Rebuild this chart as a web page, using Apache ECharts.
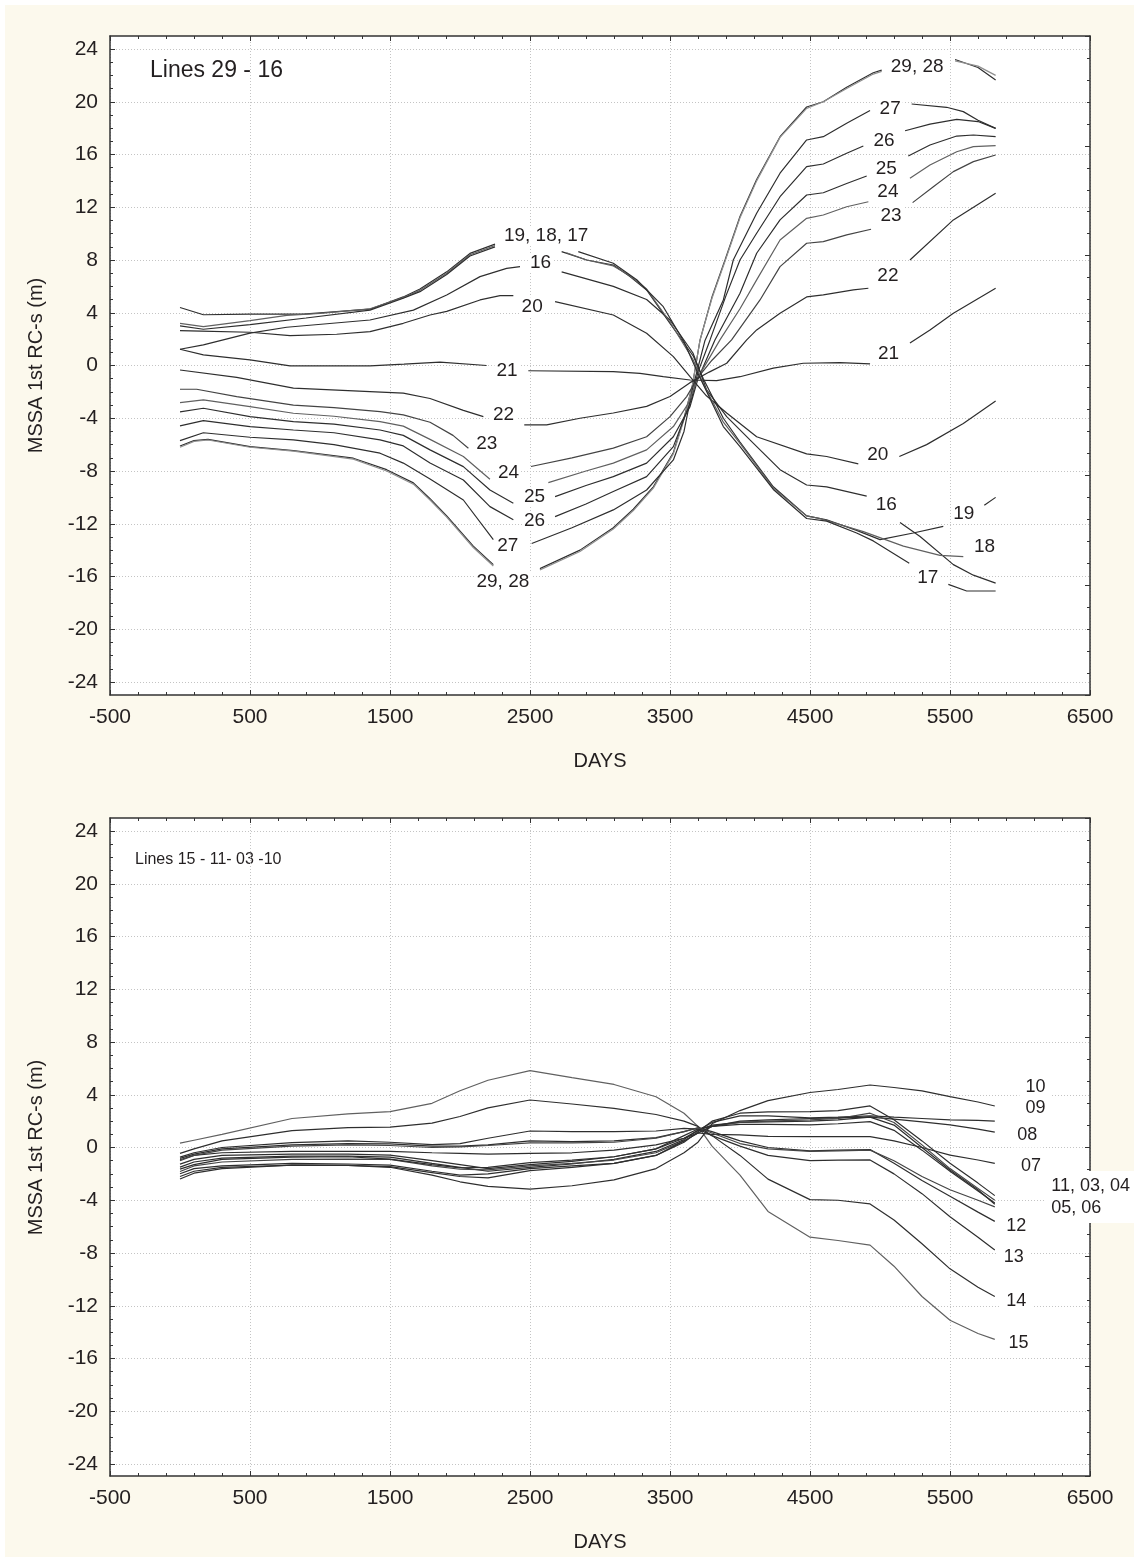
<!DOCTYPE html>
<html><head><meta charset="utf-8">
<script src="https://cdn.jsdelivr.net/npm/echarts@6/dist/echarts.min.js"></script>
<style>
html,body{margin:0;padding:0;background:#fff;}
#bg{position:absolute;left:5px;top:5px;width:1129px;height:1552px;background:#fcf9ed;}
#chart{position:absolute;left:0;top:0;width:1139px;height:1562px;}
</style></head><body>
<div id="bg"></div><div id="chart"></div>
<script>
// ---------------- DATA ----------------
// Shared axis settings
const X_MIN = -500, X_MAX = 6500, X_STEP = 1000;
const Y_MIN = -24, Y_MAX = 24, Y_STEP = 4;

// Panel 1 (Lines 29 - 16): [day, value] pairs, null = break for in-line label
const L29 = [[0,-6.1],[100,-5.7],[200,-5.6],[500,-6.15],[810,-6.45],[1238,-7.03],[1476,-7.9],[1667,-8.9],[1786,-10.1],[1905,-11.4],[2095,-13.7],[2238,-15.1],null,[2571,-15.4],[2857,-14.0],[3095,-12.3],[3238,-10.9],[3381,-9.2],[3524,-6.6],[3600,-4.0],[3660,-1.5],[3714,1.9],[3800,5.2],[3893,8.0],[4000,11.3],[4119,14.1],[4286,17.35],[4476,19.6],[4595,20.0],[4762,21.1],[4952,22.2],[5012,22.4],null,[5536,23.2],[5700,22.6],[5826,21.65]];
const L28 = [[0,-6.2],[100,-5.75],[200,-5.65],[500,-6.2],[810,-6.5],[1238,-7.1],[1476,-8.0],[1667,-9.0],[1786,-10.2],[1905,-11.5],[2095,-13.8],[2238,-15.2],null,[2571,-15.5],[2857,-14.1],[3095,-12.4],[3238,-11.0],[3381,-9.3],[3524,-6.7],[3600,-4.1],[3660,-1.5],[3714,1.9],[3800,5.1],[3893,7.9],[4000,11.2],[4119,14.0],[4286,17.3],[4476,19.5],[4595,20.0],[4762,21.0],[4952,22.1],[5012,22.3],null,[5536,23.1],[5700,22.7],[5826,22.0]];
const L27 = [[0,-5.7],[167,-5.1],[500,-5.44],[810,-5.64],[1100,-6.0],[1429,-6.65],[1595,-7.4],[1786,-8.6],[2024,-10.2],[2238,-13.2],null,[2512,-13.5],[2800,-12.3],[3095,-10.95],[3333,-9.44],[3524,-7.16],[3600,-5.0],[3660,-1.8],[3750,1.9],[3881,4.97],[3952,8.0],[4119,11.54],[4286,14.58],[4476,17.1],[4595,17.35],[4762,18.37],[4929,19.33],null,[5226,19.83],[5476,19.58],[5595,19.25],[5700,18.6],[5826,17.98]];
const L26 = [[0,-4.58],[167,-4.18],[500,-4.63],[810,-4.89],[1100,-5.1],[1429,-5.64],[1595,-6.1],[1786,-7.4],[2024,-8.68],[2214,-10.7],[2381,-11.7],null,[2679,-11.46],[2900,-10.5],[3095,-9.56],[3333,-8.43],[3524,-6.15],[3655,-2.5],[3700,-0.5],[3786,1.94],[3900,5.3],[4000,8.0],[4119,10.03],[4286,12.8],[4476,15.08],[4595,15.28],[4762,16.09],[4881,16.65],null,[5179,17.8],[5357,18.3],[5548,18.67],[5700,18.5],[5826,17.98]];
const L25 = [[0,-3.52],[167,-3.24],[500,-3.88],[810,-4.26],[1100,-4.45],[1429,-4.89],[1595,-5.3],[1786,-6.4],[2024,-7.67],[2214,-9.44],[2381,-10.44],null,[2679,-9.94],[2900,-9.1],[3095,-8.43],[3333,-7.4],[3524,-5.4],[3643,-3.12],[3700,-1.0],[3821,1.94],[4000,5.48],[4119,8.51],[4286,11.04],[4476,12.93],[4595,13.1],[4762,13.8],[4905,14.37],null,[5202,15.89],[5357,16.72],[5548,17.4],[5667,17.48],[5826,17.35]];
const L24 = [[0,-2.82],[167,-2.61],[500,-3.12],[810,-3.62],[1100,-3.85],[1429,-4.26],[1595,-4.6],[1786,-5.6],[2024,-6.9],[2214,-8.62],null,[2631,-8.88],[2900,-8.0],[3095,-7.4],[3333,-6.4],[3524,-4.63],[3631,-2.87],[3700,-0.9],[3857,1.94],[4000,4.3],[4119,6.49],[4286,9.52],[4476,11.16],[4595,11.41],[4762,12.04],[4917,12.42],null,[5214,14.2],[5357,15.2],[5548,16.21],[5667,16.6],[5826,16.67]];
const L23 = [[0,-1.8],[119,-1.8],[405,-2.36],[810,-3.0],[1100,-3.2],[1429,-3.5],[1595,-3.75],[1786,-4.3],[1950,-5.3],[2060,-6.27],null,[2507,-7.66],[2800,-7.0],[3095,-6.27],[3333,-5.4],[3500,-3.88],[3619,-2.36],[3700,-0.9],[3800,0.4],[3940,1.94],[4143,4.97],[4286,7.5],[4476,9.27],[4595,9.39],[4762,9.9],[4936,10.33],null,[5233,12.35],[5381,13.56],[5524,14.7],[5667,15.46],[5826,15.96]];
const L22 = [[0,-0.34],[405,-0.9],[810,-1.72],[1357,-1.98],[1595,-2.1],[1786,-2.5],[2024,-3.4],[2167,-3.88],null,[2459,-4.5],[2619,-4.5],[2857,-4.0],[3095,-3.6],[3333,-3.1],[3500,-2.35],[3643,-1.3],[3780,-0.5],[3905,0.17],[4048,1.94],[4119,2.7],[4286,3.96],[4476,5.2],[4595,5.35],[4810,5.73],[4917,5.86],null,[5214,8.0],[5524,11.04],[5826,13.06]];
const L21 = [[0,1.23],[167,0.8],[500,0.43],[786,-0.03],[1357,-0.03],[1600,0.1],[1857,0.25],[2190,0.0],null,[2488,-0.4],[3095,-0.46],[3286,-0.6],[3452,-0.85],[3643,-1.1],[3833,-1.15],[4000,-0.85],[4238,-0.2],[4452,0.17],[4714,0.22],[4929,0.12],null,[5214,1.7],[5357,2.7],[5524,3.96],[5826,5.86]];
const L20 = [[0,2.64],[150,2.6],[500,2.52],[786,2.26],[1119,2.37],[1357,2.57],[1595,3.2],[1786,3.83],[1905,4.1],[2143,4.97],[2286,5.3],[2381,5.3],null,[2679,4.84],[3095,3.83],[3333,2.44],[3524,0.67],[3643,-0.85],[3760,-2.3],[3905,-3.6],[4119,-5.4],[4476,-6.7],[4619,-6.9],[4845,-7.46],null,[5138,-6.9],[5333,-6.0],[5595,-4.4],[5826,-2.7]];
const L16 = [[0,1.23],[167,1.56],[500,2.45],[762,2.9],[1357,3.45],[1667,4.2],[1905,5.35],[2143,6.74],[2333,7.37],[2429,7.5],null,[2726,7.1],[3095,6.0],[3333,5.0],[3500,3.45],[3664,0.95],[3762,-1.85],[3905,-3.88],[4071,-5.64],[4286,-7.9],[4476,-9.06],[4619,-9.2],[4905,-9.9],null,[5143,-11.9],[5286,-12.97],[5524,-15.1],[5667,-15.9],[5826,-16.5]];
const L19 = [[0,4.4],[167,3.85],[500,3.9],[881,3.9],[1357,4.27],[1595,5.2],[1714,5.8],[1905,7.1],[2071,8.5],[2250,9.2],null,[2726,8.63],[2905,8.0],[3095,7.62],[3214,6.74],[3333,5.73],[3500,3.2],[3667,0.7],[3738,-1.0],[3881,-4.0],[4000,-5.8],[4238,-9.2],[4476,-11.4],[4619,-11.7],[4833,-12.5],[5000,-13.2],[5238,-12.7],[5452,-12.2],null,[5745,-10.6],[5826,-10.0]];
const L18 = [[0,3.2],[167,2.95],[500,3.4],[762,3.8],[1000,3.95],[1357,4.3],[1595,5.15],[1714,5.7],[1905,7.0],[2071,8.4],[2250,9.1],null,[2760,8.55],[2905,8.0],[3095,7.55],[3214,6.8],[3333,5.8],[3500,3.3],[3667,0.4],[3738,-1.4],[3881,-4.3],[4000,-5.9],[4238,-9.3],[4476,-11.4],[4571,-11.6],[4881,-12.6],[5167,-13.7],[5429,-14.4],[5595,-14.5]];
const L17 = [[0,3.0],[167,2.75],[500,3.1],[900,3.6],[1357,4.2],[1595,5.1],[1714,5.6],[1905,6.9],[2071,8.3],[2250,9.0],null,[2845,8.63],[3095,7.75],[3262,6.5],[3452,4.46],[3600,1.8],[3700,-0.6],[3881,-4.63],[4000,-6.15],[4238,-9.4],[4476,-11.6],[4619,-11.8],[4833,-12.7],[4952,-13.3],[5209,-15.0],null,[5488,-16.6],[5619,-17.1],[5826,-17.1]];

// In-line labels of panel 1: [text, day, value]
const LABELS1 = [
  ['19, 18, 17',2619,9.82],['16',2579,7.75],['20',2519,4.42],['21',2340,-0.42],['22',2314,-3.75],
  ['23',2195,-5.97],['24',2350,-8.17],['25',2536,-10.0],['26',2536,-11.84],['27',2345,-13.68],['29, 28',2310,-16.46],
  ['29, 28',5269,22.6],['27',5076,19.43],['26',5033,16.97],['25',5048,14.88],['24',5060,13.13],['23',5083,11.34],
  ['22',5060,6.74],['21',5064,0.88],['20',4988,-6.83],['16',5048,-10.62],['19',5602,-11.3],['18',5750,-13.78],['17',5345,-16.13]
];

// Panel 2 (Lines 15 - 11 - 03 - 10): shared day grid, one value list per line
const DAYS2 = [0,100,300,800,1200,1500,1800,2000,2200,2500,2800,3100,3400,3600,3700,3800,4000,4200,4500,4700,4929,5100,5300,5500,5700,5820];
const P15 = [0.33,0.55,1.0,2.2,2.55,2.72,3.35,4.3,5.1,5.83,5.3,4.78,3.85,2.6,1.6,0.1,-2.1,-4.85,-6.8,-7.05,-7.4,-9.0,-11.3,-13.1,-14.1,-14.55];
const P14 = [-0.45,-0.1,0.5,1.28,1.5,1.55,1.85,2.35,3.0,3.6,3.3,2.97,2.5,2.0,1.6,0.9,-0.6,-2.4,-3.95,-4.0,-4.28,-5.5,-7.3,-9.2,-10.6,-11.3];
const P13 = [-0.73,-0.4,0.0,0.37,0.5,0.4,0.22,0.3,0.7,1.25,1.2,1.2,1.25,1.45,1.4,0.9,0.1,-0.6,-1.0,-0.95,-0.94,-2.0,-3.5,-5.25,-6.8,-7.77];
const P12 = [-0.83,-0.5,-0.1,0.2,0.3,0.27,0.1,0.1,0.2,0.5,0.45,0.5,0.75,1.2,1.5,1.2,0.5,0.0,-0.25,-0.2,-0.15,-1.2,-2.5,-3.7,-4.9,-5.6];
const P07 = [-0.93,-0.6,-0.4,-0.3,-0.3,-0.3,-0.4,-0.45,-0.5,-0.45,-0.4,-0.2,0.2,0.7,1.1,1.0,0.95,0.85,0.82,0.82,0.82,0.5,0.0,-0.58,-0.95,-1.2];
const P08 = [-1.26,-0.9,-0.6,-0.5,-0.5,-0.58,-1.0,-1.3,-1.6,-1.3,-1.05,-0.7,-0.1,0.7,1.3,1.7,1.9,1.95,2.0,2.1,2.3,2.15,1.95,1.71,1.4,1.16];
const P09 = [-1.49,-1.1,-0.8,-0.65,-0.65,-0.73,-1.2,-1.5,-1.8,-1.5,-1.25,-0.9,-0.3,0.6,1.3,1.9,2.4,2.4,2.25,2.3,2.4,2.3,2.2,2.1,2.05,2.0];
const P10 = [-2.39,-1.95,-1.6,-1.33,-1.35,-1.5,-2.1,-2.6,-2.95,-3.15,-2.9,-2.46,-1.6,-0.4,0.4,1.8,2.8,3.55,4.17,4.4,4.74,4.55,4.3,3.86,3.45,3.15];
const P11 = [-1.99,-1.6,-1.4,-1.2,-1.25,-1.33,-1.8,-2.1,-2.0,-1.6,-1.4,-1.2,-0.6,0.4,1.2,2.0,2.6,2.7,2.72,2.8,3.15,2.1,0.5,-1.2,-2.7,-3.65];
const P03 = [-1.82,-1.4,-1.1,-0.9,-0.88,-0.9,-1.4,-1.65,-1.7,-1.4,-1.2,-0.95,-0.4,0.5,1.1,1.6,1.9,2.0,2.1,2.2,2.6,1.9,0.2,-1.6,-3.1,-4.0];
const P04 = [-1.64,-1.3,-0.9,-0.73,-0.7,-0.88,-1.3,-1.55,-1.5,-1.15,-0.95,-0.7,-0.1,0.9,1.4,1.6,1.75,1.75,1.71,1.8,1.96,1.3,-0.2,-1.8,-3.3,-4.2];
const P05 = [-1.0,-0.6,-0.2,0.1,0.2,0.15,0.0,0.05,0.15,0.35,0.35,0.4,0.7,1.2,1.5,1.1,0.3,-0.1,-0.3,-0.25,-0.2,-1.0,-2.2,-3.2,-4.0,-4.5];
const P06 = [-2.2,-1.8,-1.5,-1.33,-1.35,-1.45,-1.9,-2.2,-2.3,-1.75,-1.5,-1.2,-0.6,0.5,1.1,1.6,2.0,2.1,2.2,2.25,2.3,1.7,0.0,-1.7,-3.2,-4.3];

// Right-hand labels of panel 2: [text, day, value, align]
const LABELS2 = [
  ['10',6114,4.57,'center'],['09',6114,2.92,'center'],['08',6055,0.88,'center'],['07',6083,-1.45,'center'],
  ['11, 03, 04\n05, 06',6184,-3.79,'left'],['12',5976,-6.0,'center'],['13',5959,-8.32,'center'],
  ['14',5976,-11.68,'center'],['15',5993,-14.84,'center']
];

// ---------------- STYLE ----------------
const FONT = "'Liberation Sans', Arial, Helvetica, sans-serif";
const INK = '#231f20';
const AXIS = '#333333';
const DARK = '#2e2e2e', MID = '#606060', LIGHT = '#8f8f8f';

const PANEL1 = [['29',L29,DARK],['28',L28,LIGHT],['27',L27,DARK],['26',L26,DARK],['25',L25,DARK],['24',L24,MID],['23',L23,'#444'],
  ['22',L22,DARK],['21',L21,DARK],['20',L20,DARK],['16',L16,DARK],['19',L19,DARK],['18',L18,MID],['17',L17,DARK]];
const PANEL2 = [['15',P15,MID],['14',P14,DARK],['13',P13,DARK],['12',P12,DARK],['07',P07,DARK],['08',P08,DARK],['09',P09,DARK],
  ['10',P10,DARK],['11',P11,DARK],['03',P03,'#444'],['04',P04,DARK],['05',P05,'#444'],['06',P06,DARK]];

// ---------------- BUILD ----------------
const grids = [], xAxes = [], yAxes = [], series = [];

function addPanel(outerTop, outerH, innerTop, innerH) {
  const g0 = grids.length;
  grids.push({left:110, top:outerTop, width:980, height:outerH, show:true, backgroundColor:'#ffffff', borderWidth:0});
  grids.push({left:110, top:innerTop, width:980, height:innerH, show:false});
  const g1 = g0 + 1;
  const xi = xAxes.length, yi = yAxes.length;
  const tickStyle = {color:AXIS, width:1};
  // bottom x axis with labels and vertical grid
  xAxes.push({gridIndex:g0, type:'value', position:'bottom', min:X_MIN, max:X_MAX, interval:X_STEP,
    axisLine:{show:true, onZero:false, lineStyle:{color:AXIS, width:1.5}},
    axisTick:{show:true, inside:true, length:5, lineStyle:tickStyle},
    minorTick:{show:true, splitNumber:5, length:3, lineStyle:tickStyle},
    axisLabel:{show:true, margin:12, fontSize:21, color:INK, fontFamily:FONT, formatter:v => String(v)},
    splitLine:{show:true, lineStyle:{color:'#c4c4c4', type:[1,2], width:1}},
    name:'DAYS', nameLocation:'middle', nameGap:56, nameTextStyle:{fontSize:20, color:INK, fontFamily:FONT}});
  // top frame axis
  xAxes.push({gridIndex:g0, type:'value', position:'top', min:X_MIN, max:X_MAX, interval:X_STEP,
    axisLine:{show:true, onZero:false, lineStyle:{color:AXIS, width:1.5}},
    axisTick:{show:true, inside:true, length:5, lineStyle:tickStyle},
    minorTick:{show:true, splitNumber:5, length:3, lineStyle:tickStyle},
    axisLabel:{show:false}, splitLine:{show:false}});
  // hidden data x axis
  xAxes.push({gridIndex:g1, type:'value', min:X_MIN, max:X_MAX, show:false});
  // left frame line
  yAxes.push({gridIndex:g0, type:'value', position:'left', min:0, max:1,
    axisLine:{show:true, onZero:false, lineStyle:{color:AXIS, width:1.5}},
    axisTick:{show:false}, axisLabel:{show:false}, splitLine:{show:false}});
  // right frame axis with its own ticks
  yAxes.push({gridIndex:g0, type:'value', position:'right', min:0, max:30, interval:5,
    axisLine:{show:true, onZero:false, lineStyle:{color:AXIS, width:1.5}},
    axisTick:{show:true, inside:true, length:5, lineStyle:tickStyle},
    minorTick:{show:true, splitNumber:5, length:3, lineStyle:tickStyle},
    axisLabel:{show:false}, splitLine:{show:false}});
  // data y axis with labels
  yAxes.push({gridIndex:g1, type:'value', position:'left', min:Y_MIN, max:Y_MAX, interval:Y_STEP,
    axisLine:{show:false, onZero:false},
    axisTick:{show:true, inside:true, length:5, lineStyle:tickStyle},
    minorTick:{show:true, splitNumber:4, length:3, lineStyle:tickStyle},
    axisLabel:{show:true, margin:12, fontSize:21, color:INK, fontFamily:FONT},
    splitLine:{show:true, lineStyle:{color:'#c4c4c4', type:[1,2], width:1}},
    name:'MSSA 1st RC-s (m)', nameLocation:'middle', nameGap:64, nameRotate:90,
    nameTextStyle:{fontSize:20, color:INK, fontFamily:FONT}});
  return {xi: xi + 2, yi: yi + 2};
}

const p1 = addPanel(36, 659, 49, 633);
const p2 = addPanel(818, 658, 831, 633);

PANEL1.forEach(([name, pts, color]) => {
  series.push({type:'line', name:'L'+name, xAxisIndex:p1.xi, yAxisIndex:p1.yi,
    data: pts.map(p => p === null ? ['-','-'] : p), connectNulls:false,
    symbol:'none', lineStyle:{color, width:1.2}, silent:true, z:3});
});
PANEL2.forEach(([name, vals, color]) => {
  series.push({type:'line', name:'P'+name, xAxisIndex:p2.xi, yAxisIndex:p2.yi,
    data: vals.map((v, i) => [DAYS2[i], v]),
    symbol:'none', lineStyle:{color, width:1.2}, silent:true, z:3});
});

const LABEL_TEXT = {color:INK, fontFamily:FONT, backgroundColor:'#ffffff', textBorderWidth:0, textBorderColor:'transparent', textShadowBlur:0, opacity:1};

series.push({type:'scatter', xAxisIndex:p1.xi, yAxisIndex:p1.yi, clip:false, silent:true, z:5,
  symbolSize:1, itemStyle:{color:'#ffffff', opacity:1},
  data: LABELS1.map(([t, x, y]) => ({value:[x, y], name:t})),
  label:Object.assign({show:true, position:[0,0], align:'center', verticalAlign:'middle', formatter:p => p.name,
    fontSize:19, padding:[0,2]}, LABEL_TEXT)});

series.push({type:'scatter', xAxisIndex:p2.xi, yAxisIndex:p2.yi, clip:false, silent:true, z:5,
  symbolSize:1, itemStyle:{color:'#ffffff', opacity:1},
  data: LABELS2.map(([t, x, y, a]) => ({value:[x, y], name:t,
    label:{align:a, padding: a === 'left' ? [4,4,4,6] : [1,6], lineHeight:22}})),
  label:Object.assign({show:true, position:[0,0], verticalAlign:'middle', formatter:p => p.name,
    fontSize:18}, LABEL_TEXT)});

const chart = echarts.init(document.getElementById('chart'), null, {renderer:'canvas'});
chart.setOption({
  animation:false,
  backgroundColor:'transparent',
  grid: grids, xAxis: xAxes, yAxis: yAxes, series,
  graphic: [
    {type:'text', left:150, top:59, style:{text:'Lines 29 - 16', fontSize:23, fill:INK, fontFamily:FONT}},
    {type:'text', left:135, top:852, style:{text:'Lines 15 - 11- 03 -10', fontSize:16, fill:INK, fontFamily:FONT}}
  ]
});
</script></body></html>
